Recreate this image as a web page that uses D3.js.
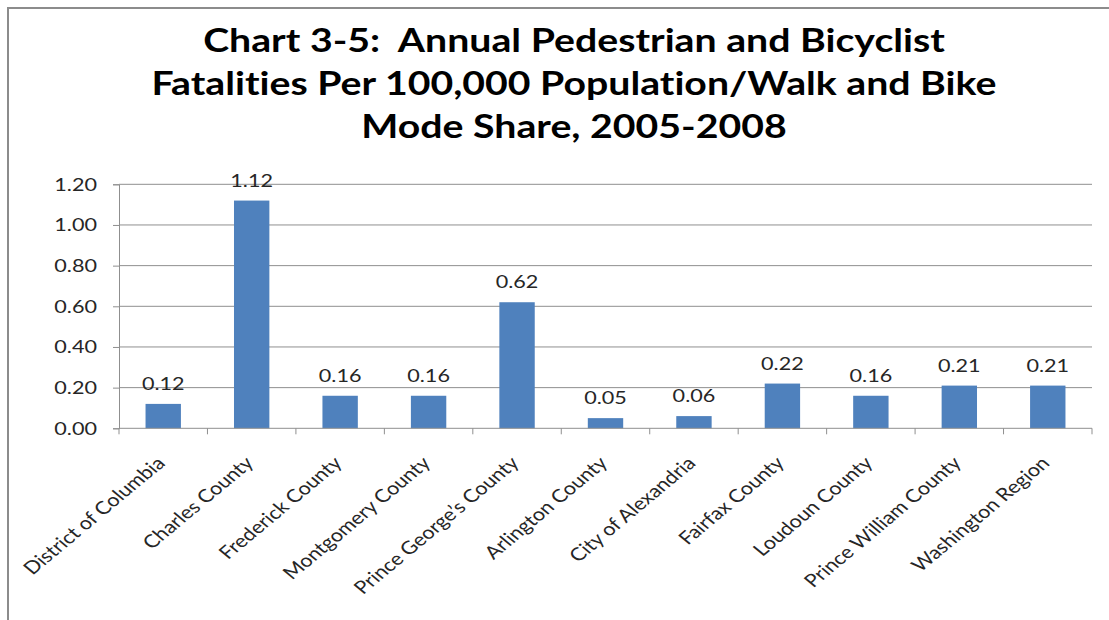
<!DOCTYPE html>
<html>
<head>
<meta charset="utf-8">
<script src="https://cdn.jsdelivr.net/npm/d3@7"></script>
<style>
html,body{margin:0;padding:0;background:#fff;}
svg{display:block;}
text{font-variant-ligatures:none;font-feature-settings:"liga" 0;white-space:pre;}
</style>
</head>
<body>
<svg id="chart" width="1109" height="620"></svg>
<script>
const titleLines = ["Chart 3-5:  Annual Pedestrian and Bicyclist",
                    "Fatalities Per 100,000 Population/Walk and Bike",
                    "Mode Share, 2005-2008"];
const categories = ["District of Columbia","Charles County","Frederick County","Montgomery County",
  "Prince George\u2019s County","Arlington County","City of Alexandria","Fairfax County",
  "Loudoun County","Prince William County","Washington Region"];
const values = [0.12, 1.12, 0.16, 0.16, 0.62, 0.05, 0.06, 0.22, 0.16, 0.21, 0.21];
const yTicks = [0, 0.2, 0.4, 0.6, 0.8, 1.0, 1.2];

const svg = d3.select("#chart");
const W = 1109, H = 620;
const margin = {left:119, right:W-1092, top:184.3, bottom:H-428.3};
const font = "Lato, 'Open Sans', sans-serif";
const SX = 1.2; // horizontal stretch of the glyphs in the reference

// border
svg.append("path")
  .attr("d", `M8,${H} L8,8 L${W},8`)
  .attr("fill","none").attr("stroke","#8c8c8c").attr("stroke-width",2);

// title
const tl = svg.append("g").selectAll("text").data(titleLines).join("text")
  .attr("x", 0).attr("y", 0)
  .attr("text-anchor","middle")
  .attr("font-family", font).attr("font-weight","bold")
  .attr("font-size", 32).attr("fill","#000")
  .text(d=>d);
const w2 = tl.nodes()[1].getComputedTextLength();
const tsx = 845 / w2;
tl.attr("transform",(d,i)=>`translate(574,${52+i*43}) scale(${tsx},1)`);

const x = d3.scaleBand().domain(categories).range([margin.left, W-margin.right]).paddingInner(0.6).paddingOuter(0.3);
const xb = d3.scaleBand().domain(categories).range([margin.left, W-margin.right]);
const y = d3.scaleLinear().domain([0,1.2]).range([H-margin.bottom, margin.top]);

// gridlines
svg.append("g").selectAll("line").data(yTicks.filter(d=>d>0)).join("line")
  .attr("x1", margin.left).attr("x2", W-margin.right)
  .attr("y1", d=>y(d)).attr("y2", d=>y(d))
  .attr("stroke","#8f8f8f").attr("stroke-width",1);

// y axis
const yAxis = svg.append("g").attr("transform",`translate(${margin.left},0)`)
  .call(d3.axisLeft(y).tickValues(yTicks).tickFormat(d3.format(".2f")).tickSize(6).tickPadding(15));
yAxis.select(".domain").attr("stroke","#8f8f8f");
yAxis.selectAll(".tick line").attr("stroke","#8f8f8f");
yAxis.selectAll("text").attr("font-family",font).attr("font-size",18).attr("fill","#262626")
  .attr("x", -22/SX).attr("transform",`scale(${SX},1)`);

// bars
svg.append("g").selectAll("rect").data(values).join("rect")
  .attr("x",(d,i)=>x(categories[i])).attr("width",x.bandwidth())
  .attr("y",d=>y(d)).attr("height",d=>y(0)-y(d))
  .attr("fill","#4F81BD");

// data labels
svg.append("g").selectAll("text").data(values).join("text")
  .attr("transform",(d,i)=>`translate(${xb(categories[i])+xb.bandwidth()/2},${y(d)-14}) scale(${SX},1)`)
  .attr("text-anchor","middle")
  .attr("font-family",font).attr("font-size",18).attr("fill","#262626")
  .text(d=>d3.format(".2f")(d));

// x axis
const xAxisG = svg.append("g").attr("transform",`translate(0,${y(0)})`);
xAxisG.append("line").attr("x1",margin.left).attr("x2",W-margin.right)
  .attr("stroke","#8f8f8f");
const edges = categories.map(c=>xb(c)).concat([W-margin.right]);
xAxisG.selectAll("line.t").data(edges).join("line").attr("class","t")
  .attr("x1",d=>d).attr("x2",d=>d).attr("y1",0).attr("y2",6).attr("stroke","#8f8f8f");

// category labels
svg.append("g").selectAll("text").data(categories).join("text")
  .attr("transform",d=>`translate(${xb(d)+xb.bandwidth()/2+3},${y(0)+36}) scale(${SX},1) rotate(-45)`)
  .attr("text-anchor","end")
  .attr("font-family",font).attr("font-size",18).attr("fill","#262626")
  .text(d=>d);
</script>
</body>
</html>
